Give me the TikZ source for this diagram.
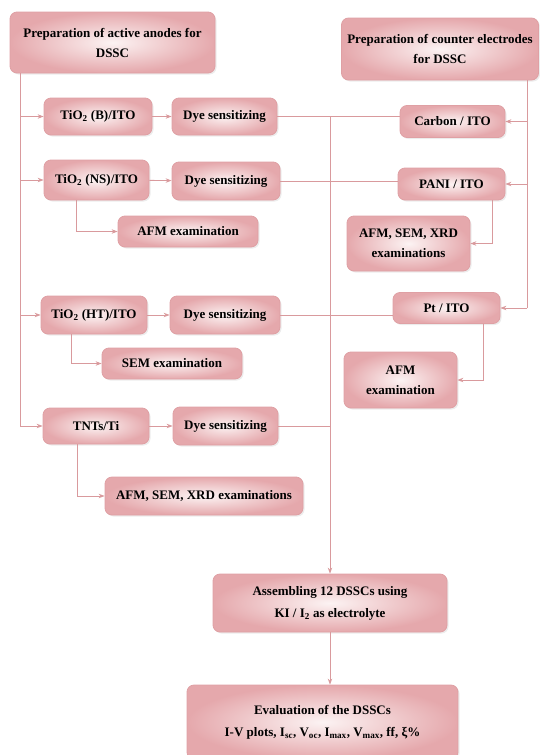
\documentclass[tikz,border=0pt]{standalone}
\usepackage{fontspec}
\setmainfont{Liberation Serif}
\usetikzlibrary{arrows.meta,shadows}
\definecolor{edgec}{HTML}{DFA0A4}
\definecolor{darkc}{HTML}{E5A8AC}
\definecolor{lightc}{HTML}{FCF3F3}
\definecolor{wirec}{HTML}{D99A9D}
\tikzset{
 box/.style={draw=edgec, line width=0.8pt, rounded corners=7pt,
   inner color=lightc, outer color=darkc,
   align=center, font=\fontsize{13}{20}\selectfont\bfseries, inner sep=0pt,
   drop shadow={opacity=0.15, shadow xshift=1.5pt, shadow yshift=-1.5pt}},
 wire/.style={draw=wirec, line width=0.9pt},
 arr/.style={wire, -{Stealth[length=6pt,width=4.5pt]}},
}
\begin{document}
\begin{tikzpicture}[x=1pt,y=-1pt]
\useasboundingbox (0,0) rectangle (539,755);
% boxes
\node[box, minimum width=205pt, minimum height=61pt] (A0) at (112.5,42.5) {Preparation of active anodes for\\DSSC};
\node[box, minimum width=197pt, minimum height=62pt] (C0) at (440,49) {Preparation of counter electrodes\\for DSSC};
\node[box, minimum width=108pt, minimum height=37pt] (B1) at (98,116.5) {TiO\textsubscript{2} (B)/ITO};
\node[box, minimum width=105pt, minimum height=37pt] (D1) at (224.5,116.5) {Dye sensitizing};
\node[box, minimum width=105pt, minimum height=32pt] (CA) at (452.5,121.5) {Carbon / ITO};
\node[box, minimum width=105pt, minimum height=40pt] (B2) at (96.5,180) {TiO\textsubscript{2} (NS)/ITO};
\node[box, minimum width=108pt, minimum height=38pt] (D2) at (226,181) {Dye sensitizing};
\node[box, minimum width=140pt, minimum height=31pt] (E2) at (188,231.5) {AFM examination};
\node[box, minimum width=107pt, minimum height=32pt] (PA) at (451.5,184) {PANI / ITO};
\node[box, minimum width=123pt, minimum height=55pt] (EP) at (408.5,243.5) {AFM, SEM, XRD\\examinations};
\node[box, minimum width=106pt, minimum height=38pt] (B3) at (94,315) {TiO\textsubscript{2} (HT)/ITO};
\node[box, minimum width=110pt, minimum height=38pt] (D3) at (225,315) {Dye sensitizing};
\node[box, minimum width=140pt, minimum height=31pt] (E3) at (172,363.5) {SEM examination};
\node[box, minimum width=107pt, minimum height=31pt] (PT) at (446.5,308) {Pt / ITO};
\node[box, minimum width=113pt, minimum height=56pt] (EPt) at (400.5,380) {AFM\\examination};
\node[box, minimum width=106pt, minimum height=36pt] (B4) at (96,426) {TNTs/Ti};
\node[box, minimum width=105pt, minimum height=38pt] (D4) at (225.5,426) {Dye sensitizing};
\node[box, minimum width=198pt, minimum height=38pt] (E4) at (204,496) {AFM, SEM, XRD examinations};
\node[box, minimum width=234pt, minimum height=58pt] (AS) at (330,603) {Assembling 12 DSSCs using\\[2pt]KI / I\textsubscript{2} as electrolyte};
\node[box, minimum width=271pt, minimum height=74pt] (EV) at (322.5,722) {Evaluation of the DSSCs\\[2pt]I-V plots, I\textsubscript{sc}, V\textsubscript{oc}, I\textsubscript{max}, V\textsubscript{max}, ff, ξ\%};
% spine coordinates
\coordinate (ls) at (20,0);
\coordinate (rs) at (527,0);
\coordinate (ms) at (330,0);
% left spine
\draw[wire] (A0.south -| ls) -- (B4.west -| ls);
\draw[arr] (B1.west -| ls) -- (B1.west);
\draw[arr] (B2.west -| ls) -- (B2.west);
\draw[arr] (B3.west -| ls) -- (B3.west);
\draw[arr] (B4.west -| ls) -- (B4.west);
% right spine
\draw[wire] (C0.south -| rs) -- (PT.east -| rs);
\draw[arr] (CA.east -| rs) -- (CA.east);
\draw[arr] (PA.east -| rs) -- (PA.east);
\draw[arr] (PT.east -| rs) -- (PT.east);
% anode to dye
\draw[arr] (B1) -- (D1);
\draw[arr] (B2) -- (D2);
\draw[arr] (B3) -- (D3);
\draw[arr] (B4) -- (D4);
% dye to counter electrodes and middle bus
\draw[wire] (D1.east) -- (D1.east -| CA.west);
\draw[wire] (D2.east) -- (D2.east -| PA.west);
\draw[wire] (D3.east) -- (D3.east -| PT.west);
\draw[wire] (D4.east) -- (D4.east -| ms);
\draw[arr] (D1.east -| ms) -- (AS.north -| ms);
\draw[arr] (AS.south -| ms) -- (EV.north -| ms);
% examinations
\coordinate (x2) at (76,0);
\coordinate (x3) at (71,0);
\coordinate (x4) at (77,0);
\coordinate (xp) at (492,0);
\coordinate (xt) at (483,0);
\draw[arr] (B2.south -| x2) |- (E2.west);
\draw[arr] (B3.south -| x3) |- (E3.west);
\draw[arr] (B4.south -| x4) |- (E4.west);
\draw[arr] (PA.south -| xp) |- (EP.east);
\draw[arr] (PT.south -| xt) |- (EPt.east);
\end{tikzpicture}
\end{document}
